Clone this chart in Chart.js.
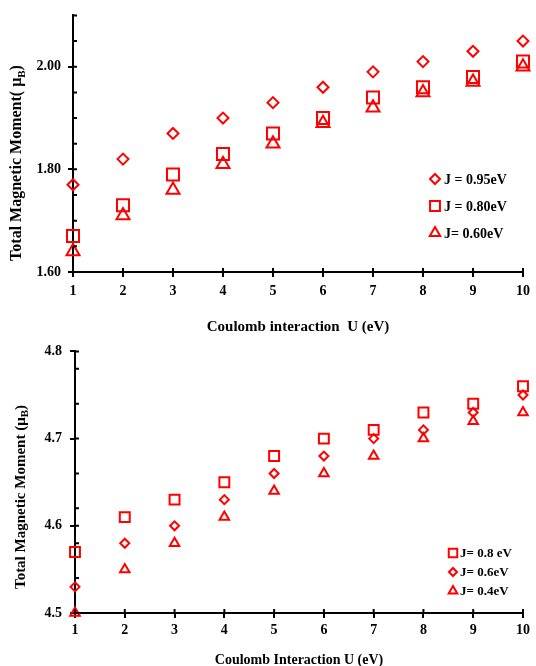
<!DOCTYPE html>
<html>
<head>
<meta charset="utf-8">
<script src="https://cdn.jsdelivr.net/npm/chart.js@4/dist/chart.umd.min.js"></script>
<style>
  body { margin: 0; background: #fff; }
  #wrap { position: relative; width: 536px; height: 666px; }
  #c1 { position: absolute; left: 0; top: 0; }
  #c2 { position: absolute; left: 0; top: 335px; }
</style>
</head>
<body>
<div id="wrap">
  <canvas id="c1" width="536" height="335"></canvas>
  <canvas id="c2" width="536" height="331"></canvas>
</div>
<script>
// U values (eV)
const uValues = [1, 2, 3, 4, 5, 6, 7, 8, 9, 10];

// top panel
const topLabels = ['J = 0.95eV', 'J = 0.80eV', 'J= 0.60eV'];
const topJ095 = [1.77, 1.82, 1.87, 1.90, 1.93, 1.96, 1.99, 2.01, 2.03, 2.05];
const topJ080 = [1.67, 1.73, 1.79, 1.83, 1.87, 1.90, 1.94, 1.96, 1.98, 2.01];
const topJ060 = [1.64, 1.71, 1.76, 1.81, 1.85, 1.89, 1.92, 1.95, 1.97, 2.00];

// bottom panel
const botLabels = ['J= 0.8 eV', 'J= 0.6eV', 'J= 0.4eV'];
const botJ08 = [4.57, 4.61, 4.63, 4.65, 4.68, 4.70, 4.71, 4.73, 4.74, 4.76];
const botJ06 = [4.53, 4.58, 4.60, 4.63, 4.66, 4.68, 4.70, 4.71, 4.73, 4.75];
const botJ04 = [4.50, 4.55, 4.58, 4.61, 4.64, 4.66, 4.68, 4.70, 4.72, 4.73];

const RED = '#ff0000';
const FONT = '"Liberation Serif", "Times New Roman", serif';

function pts(ys) {
  return uValues.map((u, i) => ({ x: u, y: ys[i] }));
}

function ds(label, ys, style, r) {
  return {
    label: label,
    data: pts(ys),
    pointStyle: style,
    pointRadius: r,
    pointHoverRadius: r,
    pointBorderWidth: 2,
    pointBorderColor: RED,
    pointBackgroundColor: 'rgba(0,0,0,0)',
    borderColor: RED,
    showLine: false,
    clip: false
  };
}

// legend drawn inside the plot area
const insideLegend = {
  id: 'insideLegend',
  afterDraw(chart, args, opts) {
    const ctx = chart.ctx;
    ctx.save();
    ctx.font = 'bold ' + opts.size + 'px ' + FONT;
    ctx.textBaseline = 'middle';
    chart.data.datasets.forEach((d, i) => {
      const y = opts.y + i * opts.gap;
      ctx.strokeStyle = RED;
      ctx.fillStyle = 'rgba(0,0,0,0)';
      ctx.lineWidth = 2;
      Chart.helpers.drawPoint(ctx, { pointStyle: d.pointStyle, radius: opts.r[i], borderWidth: 2 }, opts.x, y);
      ctx.fillStyle = '#000';
      ctx.fillText(d.label, opts.x + opts.textGap, y + 1);
    });
    ctx.restore();
  }
};

// rotated y title with subscript B
const yTitle = {
  id: 'yTitle',
  afterDraw(chart, args, opts) {
    const ctx = chart.ctx;
    const main = 'bold ' + opts.size + 'px ' + FONT;
    const sub = 'bold ' + Math.round(opts.size * 0.7) + 'px ' + FONT;
    ctx.save();
    ctx.translate(opts.x, opts.y);
    ctx.rotate(-Math.PI / 2);
    ctx.fillStyle = '#000';
    ctx.textBaseline = 'middle';
    ctx.font = main;
    const w1 = ctx.measureText(opts.pre).width;
    const w3 = ctx.measureText(')').width;
    ctx.font = sub;
    const w2 = ctx.measureText('B').width;
    let x = -(w1 + w2 + w3) / 2;
    ctx.font = main;
    ctx.fillText(opts.pre, x, 0);
    x += w1;
    ctx.font = sub;
    ctx.fillText('B', x, opts.size * 0.3);
    x += w2;
    ctx.font = main;
    ctx.fillText(')', x, 0);
    ctx.restore();
  }
};

// short tick marks on the inner side of the axes
const innerTicks = {
  id: 'innerTicks',
  afterDraw(chart) {
    const ctx = chart.ctx;
    const a = chart.chartArea;
    ctx.save();
    ctx.strokeStyle = '#000';
    ctx.lineWidth = 2;
    ctx.beginPath();
    chart.scales.x.ticks.forEach(t => {
      const px = chart.scales.x.getPixelForValue(t.value);
      ctx.moveTo(px, a.bottom);
      ctx.lineTo(px, a.bottom - 4);
    });
    chart.scales.y.ticks.forEach(t => {
      const py = chart.scales.y.getPixelForValue(t.value);
      ctx.moveTo(a.left, py);
      ctx.lineTo(a.left + 4, py);
    });
    ctx.stroke();
    ctx.restore();
  }
};

function makeOptions(cfg) {
  const isMajor = v => {
    const k = (v - cfg.yMin) / cfg.major;
    return Math.abs(k - Math.round(k)) < 1e-6;
  };
  return {
    responsive: false,
    animation: false,
    layout: { padding: { left: 0, right: cfg.padRight, top: cfg.padTop, bottom: 0 } },
    plugins: {
      legend: { display: false },
      tooltip: { enabled: false },
      insideLegend: cfg.legend,
      yTitle: cfg.yTitle
    },
    scales: {
      x: {
        type: 'linear',
        min: 1,
        max: 10,
        afterFit(s) { s.height = cfg.xHeight; },
        border: { color: '#000', width: 2 },
        grid: { drawOnChartArea: false, color: '#000', lineWidth: 2, tickLength: 5 },
        ticks: {
          stepSize: 1,
          color: '#000',
          padding: cfg.xTickPad,
          font: { family: FONT, size: 14, weight: 'bold' }
        },
        title: {
          display: true,
          text: cfg.xTitle,
          color: '#000',
          padding: { top: 0, bottom: cfg.xTitlePad },
          font: { family: FONT, size: cfg.xTitleSize, weight: 'bold' }
        }
      },
      y: {
        min: cfg.yMin,
        max: cfg.yMax,
        afterFit(s) { s.width = cfg.yWidth; },
        afterBuildTicks(s) {
          const vals = [];
          const n = Math.round((cfg.yMax - cfg.yMin) / cfg.minor + 1e-9);
          for (let i = 0; i <= n; i++) vals.push(+(cfg.yMin + i * cfg.minor).toFixed(4));
          const m = Math.round((cfg.yMax - cfg.yMin) / cfg.major);
          for (let i = 0; i <= m; i++) vals.push(+(cfg.yMin + i * cfg.major).toFixed(4));
          s.ticks = [...new Set(vals)].sort((a, b) => a - b).map(v => ({ value: v }));
        },
        border: { color: '#000', width: 2 },
        grid: {
          drawOnChartArea: false,
          lineWidth: 2,
          tickLength: 5,
          color: '#000',
          tickColor: c => (c.tick && isMajor(c.tick.value)) ? '#000' : 'rgba(0,0,0,0)'
        },
        ticks: {
          color: '#000',
          padding: cfg.yTickPad,
          autoSkip: false,
          font: { family: FONT, size: 14, weight: 'bold' },
          callback(v) {
            return isMajor(v) ? v.toFixed(cfg.digits) : '';
          }
        },
        title: { display: false }
      }
    }
  };
}

new Chart(document.getElementById('c1').getContext('2d'), {
  type: 'scatter',
  data: {
    datasets: [
      ds(topLabels[0], topJ095, 'rectRot', 5.5),
      ds(topLabels[1], topJ080, 'rect', 8.5),
      ds(topLabels[2], topJ060, 'triangle', 7.5)
    ]
  },
  options: makeOptions({
    padRight: 10, padTop: 14, xHeight: 63, yWidth: 73,
    xTickPad: 6, yTickPad: 7,
    yMin: 1.6, yMax: 2.1, minor: 0.05, major: 0.2, digits: 2,
    xTitle: 'Coulomb interaction  U (eV)', xTitleSize: 15, xTitlePad: -1,
    yTitle: { pre: 'Total Magnetic Moment( \u03bc', size: 16, x: 17, y: 163 },
    legend: { x: 435, y: 179, gap: 27, r: [5, 7, 6], textGap: 9, size: 14 }
  }),
  plugins: [insideLegend, innerTicks, yTitle]
});

new Chart(document.getElementById('c2').getContext('2d'), {
  type: 'scatter',
  data: {
    datasets: [
      ds(botLabels[0], botJ08, 'rect', 7),
      ds(botLabels[1], botJ06, 'rectRot', 4.5),
      ds(botLabels[2], botJ04, 'triangle', 5.5)
    ]
  },
  options: makeOptions({
    padRight: 13, padTop: 12, xHeight: 53, yWidth: 75,
    xTickPad: 4, yTickPad: 8,
    yMin: 4.5, yMax: 4.8, minor: 0.04, major: 0.1, digits: 1,
    xTitle: 'Coulomb Interaction U (eV)', xTitleSize: 14, xTitlePad: -3,
    yTitle: { pre: 'Total Magnetic Moment (\u03bc', size: 15, x: 21, y: 162 },
    legend: { x: 453, y: 218, gap: 19, r: [6, 4, 5], textGap: 7, size: 13 }
  }),
  plugins: [insideLegend, innerTicks, yTitle]
});
</script>
</body>
</html>
